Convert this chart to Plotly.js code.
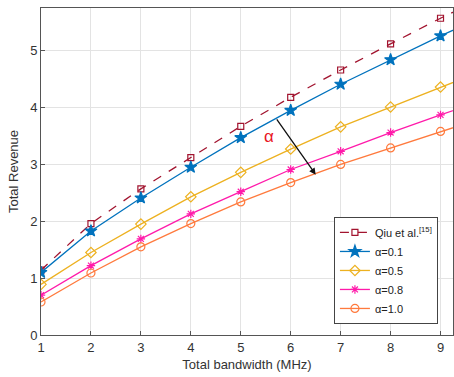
<!DOCTYPE html>
<html><head><meta charset="utf-8">
<script src="https://cdn.plot.ly/plotly-3.0.1.min.js"></script>
<style>html,body{margin:0;padding:0;background:#fff}</style>
</head><body><div id="plot" style="width:454px;height:377px"></div>
<script>
const bandwidth = [1, 2, 3, 4, 5, 6, 7, 8, 9, 10];
const qiu    = [1.14, 1.96, 2.57, 3.12, 3.67, 4.18, 4.66, 5.12, 5.57, 5.99];
const alpha01 = [1.10, 1.83, 2.41, 2.95, 3.47, 3.95, 4.41, 4.84, 5.26, 5.66];
const alpha05 = [0.89, 1.45, 1.95, 2.43, 2.86, 3.27, 3.66, 4.01, 4.36, 4.70];
const alpha08 = [0.70, 1.22, 1.69, 2.13, 2.52, 2.91, 3.23, 3.56, 3.87, 4.17];
const alpha10 = [0.58, 1.09, 1.55, 1.96, 2.34, 2.68, 3.00, 3.29, 3.58, 3.86];
const names = ['Qiu et al.<sup>[15]</sup>', 'α=0.1', 'α=0.5', 'α=0.8', 'α=1.0'];
const xTicks = [1, 2, 3, 4, 5, 6, 7, 8, 9];
const yTicks = [0, 1, 2, 3, 4, 5];

const series = [qiu, alpha01, alpha05, alpha08, alpha10];
const colors = ['#A2142F', '#0072BD', '#EDB120', '#FF1AAA', '#FF7A3D'];
const symbols = ['square-open', 'star', 'diamond-open', 'asterisk-open', 'circle-open'];
const sizes = [6, 9, 8, 7, 8];
const dashes = ['dash', 'solid', 'solid', 'solid', 'solid'];

const traces = series.map((ys, i) => ({
  x: bandwidth, y: ys, name: names[i], type: 'scatter', mode: 'lines+markers',
  line: {color: colors[i], width: 1.3, dash: dashes[i]},
  marker: {symbol: symbols[i], size: sizes[i], color: colors[i], line: {color: colors[i], width: 1.2}}
}));

const layout = {
  width: 454, height: 377,
  margin: {l: 41, r: 1, t: 8, b: 42},
  paper_bgcolor: '#fff', plot_bgcolor: '#fff',
  font: {family: 'Liberation Sans, Arial, sans-serif', color: '#333', size: 13},
  showlegend: true,
  legend: {x: 0.711, y: 0.361, xanchor: 'left', yanchor: 'top',
    bgcolor: '#fff', bordercolor: '#444', borderwidth: 1,
    font: {size: 11, color: '#222'}, tracegroupgap: 0, itemwidth: 30},
  xaxis: {range: [1, 9.25], tickvals: xTicks, ticktext: xTicks.map(String),
    showgrid: true, gridcolor: '#e3e3e3', zeroline: false,
    showline: true, linecolor: '#555', mirror: true, ticks: 'inside', ticklen: 4, tickcolor: '#555',
    tickfont: {size: 13, color: '#333'},
    title: {text: 'Total bandwidth (MHz)', font: {size: 13, color: '#333'}, standoff: 6}},
  yaxis: {range: [0, 5.75], tickvals: yTicks, ticktext: yTicks.map(String),
    showgrid: true, gridcolor: '#e3e3e3', zeroline: false,
    showline: true, linecolor: '#555', mirror: true, ticks: 'inside', ticklen: 4, tickcolor: '#555',
    tickfont: {size: 13, color: '#333'},
    title: {text: 'Total Revenue', font: {size: 13, color: '#333'}, standoff: 8}},
  annotations: [
    {x: 6.5, y: 2.82, ax: 5.7, ay: 3.82, xref: 'x', yref: 'y', axref: 'x', ayref: 'y',
     text: '', showarrow: true, arrowhead: 2, arrowsize: 1, arrowwidth: 1.3, arrowcolor: '#111'},
    {x: 5.57, y: 3.49, xref: 'x', yref: 'y', text: 'α', showarrow: false,
     font: {size: 17, color: '#E8141E'}}
  ]
};
Plotly.newPlot('plot', traces, layout, {displayModeBar: false, staticPlot: true});
</script></body></html>
